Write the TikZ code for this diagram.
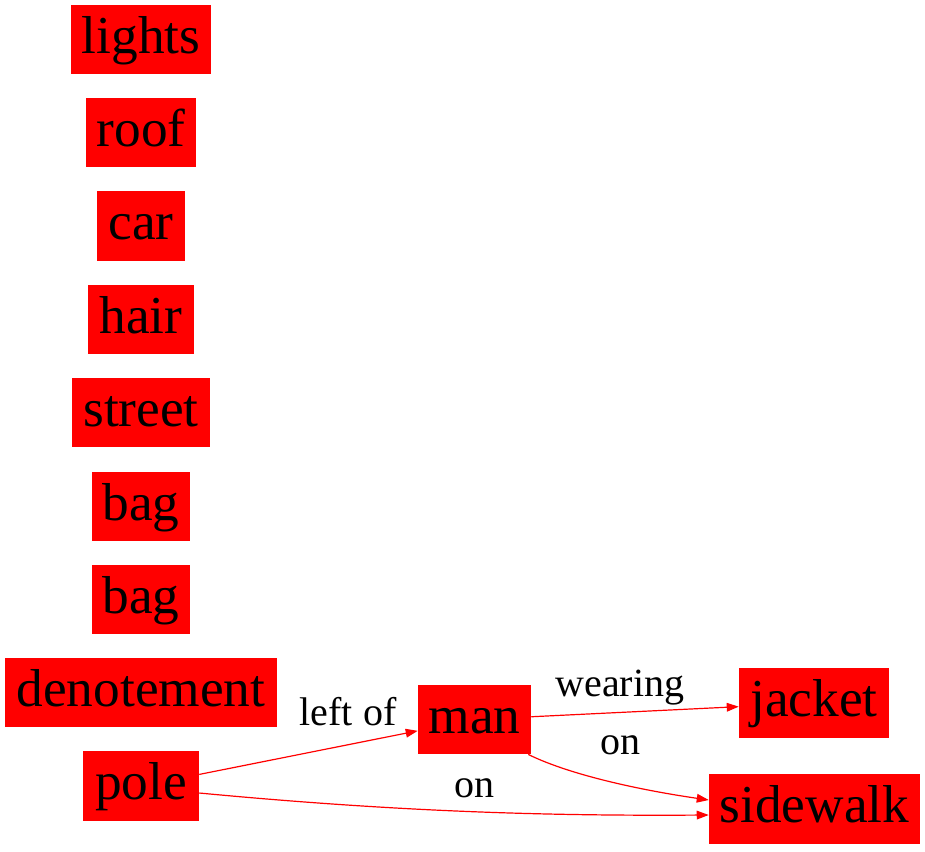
\documentclass[tikz,border=0pt]{standalone}
\usepackage{fontspec}
\setmainfont{Liberation Serif}
\usetikzlibrary{arrows.meta,calc}
\begin{document}
\begin{tikzpicture}[x=0.75pt,y=-0.75pt,
  obj/.style={fill=red,inner sep=0pt,minimum height=52pt,text height=30.4pt,text depth=9.6pt,font=\fontsize{40}{44}\selectfont,text=black},
  rel/.style={font=\fontsize{30}{34}\selectfont,text=black,inner sep=0pt},
  conn/.style={draw=red,line width=0.9pt,-{Triangle[length=9pt,width=6.5pt]}}]
\useasboundingbox (0,0) rectangle (925,851);
\node[obj,minimum width=105pt] (lights) at (141,39.5) {lights};
\node[obj,minimum width=82.5pt] (roof) at (141,132.5) {roof};
\node[obj,minimum width=66pt] (car) at (141,226) {car};
\node[obj,minimum width=79.5pt] (hair) at (141,319.5) {hair};
\node[obj,minimum width=103.5pt] (street) at (141,412.5) {street};
\node[obj,minimum width=73.5pt] (bag1) at (141,506.5) {bag};
\node[obj,minimum width=73.5pt] (bag2) at (141,599.5) {bag};
\node[obj,minimum width=204pt] (denot) at (141,692.5) {denotement};
\node[obj,minimum width=87pt] (pole) at (141,786) {pole};
\node[obj,minimum width=84.75pt] (man) at (474.5,719.5) {man};
\node[obj,minimum width=112.5pt] (jacket) at (814,703) {jacket};
\node[obj,minimum width=158.25pt] (sidewalk) at (814.5,809) {sidewalk};
\draw[conn] (pole) -- (man);
\draw[conn] (man) -- (jacket);
\draw[conn] ($(pole.east)+(0,7)$) .. controls (400,812) and (550,816) .. ($(sidewalk.west)+(0,6)$);
\draw[conn] ($(man.south east)+(-3,0)$) .. controls (570,775) and (640,790) .. ($(sidewalk.west)+(0,-9)$);
\node[rel] (l1) at (348,712) {left of};
\node[rel] (l2) at (620,688) {wearing};
\node[rel] (l3) at (620,745) {on};
\node[rel] (l4) at (474,788) {on};
\end{tikzpicture}
\end{document}
